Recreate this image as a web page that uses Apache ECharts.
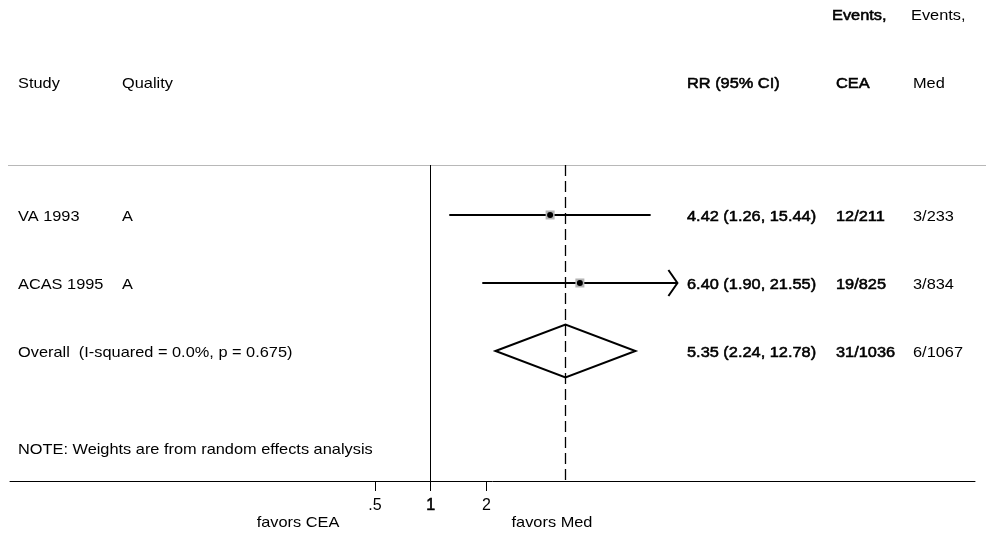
<!DOCTYPE html>
<html>
<head>
<meta charset="utf-8">
<script src="https://cdn.jsdelivr.net/npm/echarts@6/dist/echarts.min.js"></script>
<style>
  html, body { margin: 0; padding: 0; background: #fff; }
  #chart { width: 986px; height: 535px; }
</style>
</head>
<body>
<div id="chart"></div>
<script>
// Study-level data (risk ratios with 95% CI)
const studies = ['VA 1993', 'ACAS 1995'];
const quality = ['A', 'A'];
const rr = [4.42, 6.40];
const ciLow = [1.26, 1.90];
const ciHigh = [15.44, 21.55];
const eventsCEA = ['12/211', '19/825'];
const eventsMed = ['3/233', '3/834'];

// Pooled estimate
const overallLabel = 'Overall  (I-squared = 0.0%, p = 0.675)';
const overallRR = [5.35];
const overallLow = [2.24];
const overallHigh = [12.78];
const overallCEA = '31/1036';
const overallMed = '6/1067';

// Axis ticks
const tickValues = [0.5, 1, 2];
const tickLabels = ['.5', '1', '2'];

const noteText = 'NOTE: Weights are from random effects analysis';
const sideLabels = ['favors CEA', 'favors Med'];

// Layout
const FONT = '"Liberation Sans", Arial, sans-serif';
const FS = 15;
const STRETCH = 1.09;      // text is set slightly wide
const COL = { study: 18, quality: 122, rr: 687, cea: 836, med: 913 };
const ROW_OVERALL = studies.length;
const ROW_NOTE = 3.45;
const ARROW_CUTOFF = 20;   // CIs reaching past this value get an arrowhead
const X_LOG_MIN = -7.553, X_LOG_MAX = 9.772;

const log2 = Math.log2;
const fmt = (v) => v.toFixed(2);
const rrText = (m, l, h) => `${fmt(m)} (${fmt(l)}, ${fmt(h)})`;

const chart = echarts.init(document.getElementById('chart'), null, { renderer: 'canvas' });

// Plain text; "heavy" text gets a thin outline for a medium weight
function textEl(x, y, str, heavy, align) {
  const style = {
    text: str, fill: '#000', font: FS + 'px ' + FONT,
    textAlign: align || 'left', textVerticalAlign: 'middle'
  };
  if (heavy) { style.stroke = '#000'; style.lineWidth = 0.55; }
  return { type: 'text', x: x, y: y, scaleX: STRETCH, style };
}

// Confidence interval lines, weight boxes and point estimates
function renderStudy(params, api) {
  const i = params.dataIndex;
  const y = api.coord([0, i])[1];
  const xl = api.coord([log2(ciLow[i]), i])[0];
  const xh = api.coord([log2(ciHigh[i]), i])[0];
  const xp = api.coord([log2(rr[i]), i])[0];
  const children = [
    { type: 'line', shape: { x1: xl, y1: y, x2: xh, y2: y }, style: { stroke: '#000', lineWidth: 2 } },
    { type: 'rect', shape: { x: xp - 4.5, y: y - 4.5, width: 9, height: 9 }, style: { fill: '#b4b4b4' } },
    { type: 'circle', shape: { cx: xp, cy: y, r: 3 }, style: { fill: '#000' } }
  ];
  if (ciHigh[i] > ARROW_CUTOFF) {
    children.push({
      type: 'polyline',
      shape: { points: [[xh - 9, y - 13], [xh, y], [xh - 9, y + 13]] },
      style: { stroke: '#000', fill: null, lineWidth: 2 }
    });
  }
  return { type: 'group', children };
}

// Pooled estimate diamond
function renderDiamond(params, api) {
  const i = params.dataIndex;
  const row = ROW_OVERALL;
  const c = api.coord([log2(overallRR[i]), row]);
  const l = api.coord([log2(overallLow[i]), row]);
  const h = api.coord([log2(overallHigh[i]), row]);
  const top = api.coord([0, row - 0.39])[1];
  const bot = api.coord([0, row + 0.39])[1];
  return {
    type: 'polygon',
    shape: { points: [[l[0], c[1]], [c[0], top], [h[0], c[1]], [c[0], bot]] },
    style: { stroke: '#000', fill: null, lineWidth: 2 }
  };
}

// Text columns for each row
function renderRowText(params, api) {
  const i = params.dataIndex;
  const y = api.coord([0, i])[1] + 1.5;
  if (i < studies.length) {
    return {
      type: 'group', children: [
        textEl(COL.study, y, studies[i], false),
        textEl(COL.quality, y, quality[i], false),
        textEl(COL.rr, y, rrText(rr[i], ciLow[i], ciHigh[i]), true),
        textEl(COL.cea, y, eventsCEA[i], true),
        textEl(COL.med, y, eventsMed[i], false)
      ]
    };
  }
  if (i === ROW_OVERALL) {
    return {
      type: 'group', children: [
        textEl(COL.study, y, overallLabel, false),
        textEl(COL.rr, y, rrText(overallRR[0], overallLow[0], overallHigh[0]), true),
        textEl(COL.cea, y, overallCEA, true),
        textEl(COL.med, y, overallMed, false)
      ]
    };
  }
  return textEl(COL.study, api.coord([0, ROW_NOTE])[1], noteText, false);
}

const textRows = studies.map((s, i) => [0, i]).concat([[0, ROW_OVERALL], [0, ROW_NOTE]]);

const option = {
  animation: false,
  backgroundColor: '#fff',
  grid: { left: 10, right: 11, top: 165, height: 316, containLabel: false },
  xAxis: {
    type: 'value',
    min: X_LOG_MIN,
    max: X_LOG_MAX,
    splitLine: { show: false },
    axisLine: { show: true, onZero: false, lineStyle: { color: '#000', width: 1 } },
    axisTick: { show: true, length: 10, customValues: tickValues.map(log2), lineStyle: { color: '#000', width: 1 } },
    axisLabel: {
      show: true,
      customValues: tickValues.map(log2),
      margin: 17,
      fontFamily: FONT,
      fontSize: 16,
      color: '#000',
      formatter: (v) => {
        const k = tickValues.findIndex(t => Math.abs(log2(t) - v) < 1e-6);
        const s = k >= 0 ? tickLabels[k] : '';
        return tickValues[k] === 1 ? '{b|' + s + '}' : s;
      },
      rich: { b: { fontFamily: FONT, fontSize: 16, color: '#000', textBorderColor: '#000', textBorderWidth: 0.6 } }
    }
  },
  yAxis: {
    type: 'value',
    inverse: true,
    min: -0.735,
    max: 3.912,
    show: false
  },
  graphic: [
    { type: 'line', shape: { x1: 8, y1: 165.5, x2: 986, y2: 165.5 }, style: { stroke: '#b8b8b8', lineWidth: 1 } },
    textEl(832, 16, 'Events,', true),
    textEl(911, 16, 'Events,', false),
    textEl(COL.study, 84, 'Study', false),
    textEl(COL.quality, 84, 'Quality', false),
    textEl(COL.rr, 84, 'RR (95% CI)', true),
    textEl(COL.cea, 84, 'CEA', true),
    textEl(COL.med, 84, 'Med', false),
    textEl(298, 523, sideLabels[0], false, 'center'),
    textEl(552, 523, sideLabels[1], false, 'center')
  ],
  series: [
    {
      type: 'custom',
      name: 'reference',
      data: [],
      renderItem: () => null,
      markLine: {
        silent: true,
        symbol: 'none',
        label: { show: false },
        data: [
          { xAxis: log2(1), lineStyle: { color: '#000', width: 1, type: 'solid' } },
          { xAxis: log2(overallRR[0]), lineStyle: { color: '#000', width: 1.3, type: [11, 5] } }
        ]
      }
    },
    {
      type: 'custom',
      name: 'studies',
      data: studies.map((s, i) => [log2(rr[i]), i]),
      renderItem: renderStudy,
      clip: false
    },
    {
      type: 'custom',
      name: 'overall',
      data: overallRR.map(v => [log2(v), ROW_OVERALL]),
      renderItem: renderDiamond,
      clip: false
    },
    {
      type: 'custom',
      name: 'text',
      data: textRows,
      renderItem: renderRowText,
      clip: false
    }
  ]
};

chart.setOption(option);
</script>
</body>
</html>
